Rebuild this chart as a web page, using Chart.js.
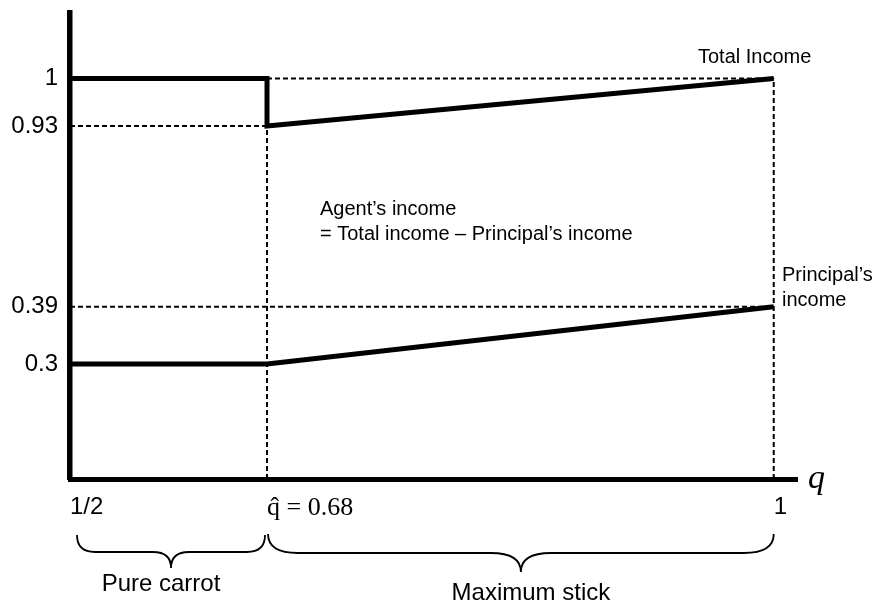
<!DOCTYPE html>
<html>
<head>
<meta charset="utf-8">
<script src="https://cdn.jsdelivr.net/npm/chart.js@4.4.1/dist/chart.umd.min.js"></script>
<style>
html, body { margin: 0; padding: 0; background: #fff; }
#wrap { width: 879px; height: 602px; }
</style>
</head>
<body>
<div id="wrap"><canvas id="c" width="879" height="602"></canvas></div>
<script>
// ---- data ----
const xTickValues = [0.5, 0.68, 1];
const xTickLabels = ['1/2', 'q\u0302 = 0.68', '1'];
const yTickValues = [1, 0.93, 0.39, 0.3];
const yTickLabels = ['1', '0.93', '0.39', '0.3'];
const totalQ = [0.5, 0.68, 0.68, 1];
const totalIncome = [1, 1, 0.93, 1];
const principalQ = [0.5, 0.68, 1];
const principalIncome = [0.3, 0.3, 0.39];
const regionLabels = ['Pure carrot', 'Maximum stick'];

// ---- schematic (piecewise-linear) scale ----
class PiecewiseScale extends Chart.LinearScale {
  _toDecimal(v) {
    const b = this.options.breaks;
    let i = 0;
    while (i < b.length - 2 && v > b[i + 1][0]) i++;
    const v0 = b[i][0], f0 = b[i][1], v1 = b[i + 1][0], f1 = b[i + 1][1];
    return f0 + (v - v0) * (f1 - f0) / (v1 - v0);
  }
  getPixelForValue(v) {
    if (v === null || v === undefined || isNaN(v)) return NaN;
    return this.getPixelForDecimal(this._toDecimal(v));
  }
  getValueForPixel(p) {
    const d = this.getDecimalForPixel(p);
    const b = this.options.breaks;
    let i = 0;
    while (i < b.length - 2 && d > b[i + 1][1]) i++;
    const v0 = b[i][0], f0 = b[i][1], v1 = b[i + 1][0], f1 = b[i + 1][1];
    return v0 + (d - f0) * (v1 - v0) / (f1 - f0);
  }
}
PiecewiseScale.id = 'piecewise';
PiecewiseScale.defaults = Chart.LinearScale.defaults;
Chart.register(PiecewiseScale);

const zip = (xs, ys) => xs.map((x, i) => ({ x: x, y: ys[i] }));
const qMin = xTickValues[0], qHat = xTickValues[1], qMax = xTickValues[2];

const solid = { borderColor: '#000', borderWidth: 5, pointRadius: 0, fill: false, tension: 0, order: 0, borderJoinStyle: 'miter', borderCapStyle: 'butt' };
const dashed = { borderColor: '#000', borderWidth: 2, borderDash: [5, 3], pointRadius: 0, fill: false, tension: 0, order: 1 };

const SANS = '"Liberation Sans", Arial, Helvetica, sans-serif';
const SERIF = '"Liberation Serif", "Times New Roman", serif';

function brace(ctx, x1, x2, yTop, yMid, yTip, rx) {
  const xm = (x1 + x2) / 2;
  ctx.beginPath();
  ctx.moveTo(x1, yTop);
  ctx.quadraticCurveTo(x1, yMid, x1 + rx, yMid);
  ctx.lineTo(xm - rx, yMid);
  ctx.quadraticCurveTo(xm, yMid, xm, yTip);
  ctx.moveTo(xm, yTip);
  ctx.quadraticCurveTo(xm, yMid, xm + rx, yMid);
  ctx.lineTo(x2 - rx, yMid);
  ctx.quadraticCurveTo(x2, yMid, x2, yTop);
  ctx.stroke();
  return xm;
}

const annotations = {
  id: 'annotations',
  afterDraw(chart) {
    const ctx = chart.ctx;
    const xs = chart.scales.x;
    ctx.save();
    ctx.fillStyle = '#000';
    ctx.strokeStyle = '#000';
    ctx.textBaseline = 'alphabetic';
    ctx.textAlign = 'left';
    ctx.font = '20px ' + SANS;
    ctx.fillText('Total Income', 698, 63);
    ctx.fillText('Agent\u2019s income', 320, 215);
    ctx.fillText('= Total income \u2013 Principal\u2019s income', 320, 240);
    ctx.fillText('Principal\u2019s', 782, 281);
    ctx.fillText('income', 782, 306);

    ctx.font = 'italic 34px ' + SERIF;
    ctx.fillText('q', 808, 488);

    ctx.lineWidth = 1.8;
    const px = xTickValues.map(v => xs.getPixelForValue(v));
    const m1 = brace(ctx, px[0] + 7, px[1] - 2, 535, 552, 568, 18);
    const m2 = brace(ctx, px[1] + 1, px[2], 534, 553, 572, 30);

    ctx.font = '24px ' + SANS;
    ctx.textAlign = 'center';
    ctx.fillText(regionLabels[0], m1 - 10, 591);
    ctx.fillText(regionLabels[1], m2 + 10, 600);
    ctx.restore();
  }
};

new Chart(document.getElementById('c'), {
  type: 'line',
  data: {
    datasets: [
      Object.assign({ label: 'Total income', data: zip(totalQ, totalIncome) }, solid),
      Object.assign({ label: 'Principal\u2019s income', data: zip(principalQ, principalIncome) }, solid),
      Object.assign({ label: 'g1', data: [{ x: qHat, y: totalIncome[1] }, { x: qMax, y: totalIncome[1] }] }, dashed),
      Object.assign({ label: 'g2', data: [{ x: qMin, y: totalIncome[2] }, { x: qHat, y: totalIncome[2] }] }, dashed),
      Object.assign({ label: 'g3', data: [{ x: qMin, y: principalIncome[2] }, { x: qMax, y: principalIncome[2] }] }, dashed),
      Object.assign({ label: 'g4', data: [{ x: qHat, y: 0 }, { x: qHat, y: totalIncome[1] }] }, dashed),
      Object.assign({ label: 'g5', data: [{ x: qMax, y: 0 }, { x: qMax, y: totalIncome[3] }] }, dashed)
    ]
  },
  options: {
    responsive: false,
    animation: false,
    events: [],
    layout: { padding: { left: 0, top: 13, right: 82, bottom: 0 } },
    plugins: { legend: { display: false }, tooltip: { enabled: false }, title: { display: false } },
    scales: {
      x: {
        type: 'piecewise',
        min: 0.5, max: 1.03,
        breaks: [[0.5, 0], [0.68, 0.271], [1, 0.968], [1.03, 1]],
        grid: { display: false, drawTicks: false },
        border: { display: true, color: '#000', width: 5 },
        afterBuildTicks: s => { s.ticks = xTickValues.map(v => ({ value: v })); },
        afterFit: s => { s.height = 123; s.paddingLeft = 0; s.paddingRight = 0; },
        ticks: {
          autoSkip: false, maxRotation: 0, minRotation: 0, align: 'start', padding: 14, color: '#000',
          callback: (v, i) => xTickLabels[i],
          font: ctx => ctx.index === 1 ? { family: SERIF, size: 26 } : { family: SANS, size: 24 }
        }
      },
      y: {
        type: 'piecewise',
        min: 0, max: 1.1,
        breaks: [[0, 0], [0.3, 0.2468], [0.39, 0.3697], [0.93, 0.7575], [1, 0.8594], [1.1, 1]],
        grid: { display: false, drawTicks: false },
        border: { display: true, color: '#000', width: 5.5 },
        afterBuildTicks: s => { s.ticks = yTickValues.map(v => ({ value: v })); },
        afterFit: s => { s.width = 70; s.paddingTop = 0; s.paddingBottom = 0; },
        ticks: {
          autoSkip: false, padding: 12, color: '#000',
          callback: (v, i) => yTickLabels[i],
          font: { family: SANS, size: 24 }
        }
      }
    }
  },
  plugins: [annotations]
});
</script>
</body>
</html>
